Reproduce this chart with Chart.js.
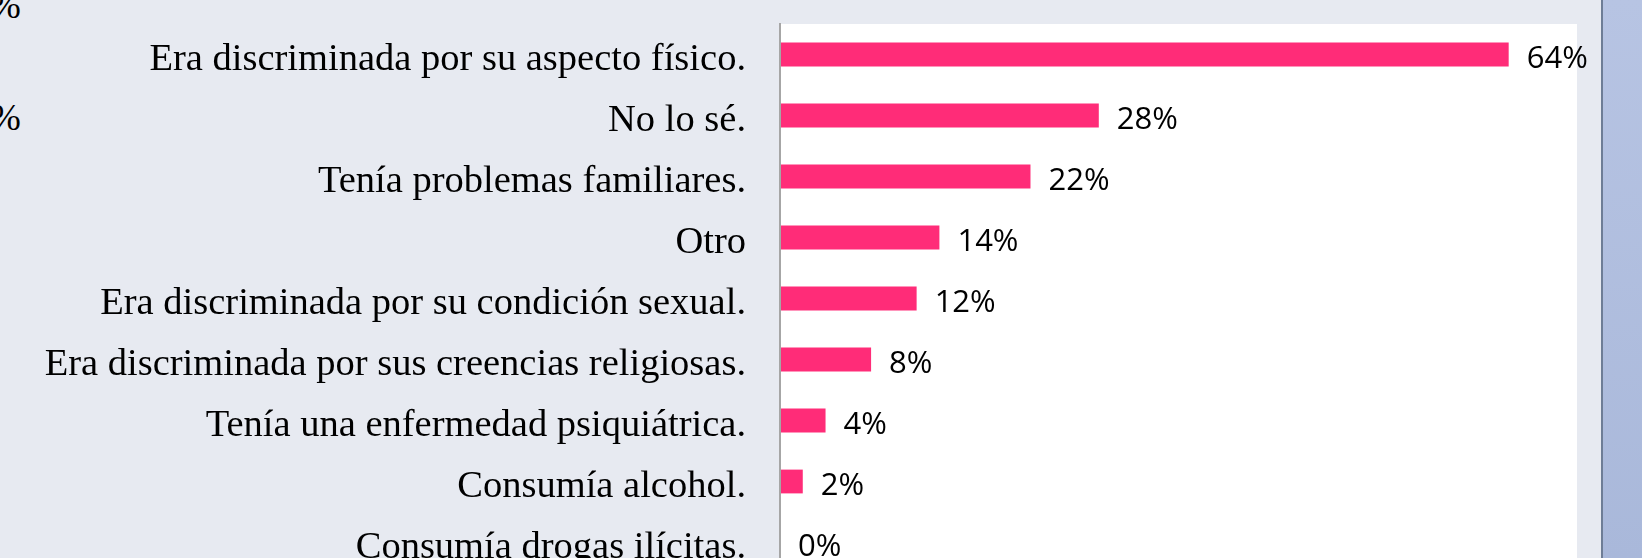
<!DOCTYPE html>
<html lang="es">
<head>
<meta charset="utf-8">
<title>Motivos</title>
<script src="https://cdn.jsdelivr.net/npm/chart.js@4/dist/chart.umd.min.js"></script>
<style>
    html, body {
        margin: 0;
        padding: 0;
        width: 1642px;
        height: 558px;
        overflow: hidden;
        background: #e7eaf1;
    }
    #wrap {
        position: absolute;
        left: 0;
        top: 0;
        width: 1601px;
        height: 580px;
    }
    .cut-label {
        position: absolute;
        font-family: 'Liberation Serif', serif;
        font-size: 37px;
        color: #000;
        line-height: 1;
    }
    #side {
        position: absolute;
        left: 1601px;
        top: 0;
        width: 41px;
        height: 558px;
        border-left: 2px solid #6e7d96;
        box-sizing: border-box;
        background: linear-gradient(#b7c4e3, #a9b8da);
    }
</style>
</head>
<body>
<div class="cut-label" style="left:-10px; top:-13px;">%</div>
<div class="cut-label" style="left:-10px; top:99px;">%</div>
<div id="wrap"><canvas id="reasonChart" width="1601" height="580"></canvas></div>
<div id="side"></div>

<script>
// Data (percent)
const categories = [
    'Era discriminada por su aspecto físico.',
    'No lo sé.',
    'Tenía problemas familiares.',
    'Otro',
    'Era discriminada por su condición sexual.',
    'Era discriminada por sus creencias religiosas.',
    'Tenía una enfermedad psiquiátrica.',
    'Consumía alcohol.',
    'Consumía drogas ilícitas.'
];
const values = [64, 28, 22, 14, 12, 8, 4, 2, 0];
const axisMax = 70;

/**
 * White plot background behind the bars
 */
const plotBackground = {
    id: 'plotBackground',
    beforeDraw(chart) {
        const a = chart.chartArea;
        const ctx = chart.ctx;
        ctx.save();
        ctx.fillStyle = '#ffffff';
        ctx.fillRect(a.left, a.top, a.right - a.left, a.bottom - a.top);
        ctx.restore();
    }
};

/**
 * Value labels to the right of each bar
 */
const valueLabels = {
    id: 'valueLabels',
    afterDatasetsDraw(chart) {
        const ctx = chart.ctx;
        const meta = chart.getDatasetMeta(0);
        ctx.save();
        ctx.font = "31px 'Open Sans', sans-serif";
        ctx.fillStyle = '#000000';
        ctx.textAlign = 'left';
        ctx.textBaseline = 'middle';
        meta.data.forEach((bar, i) => {
            ctx.fillText(values[i] + '%', bar.x + 18, bar.y + 5);
        });
        ctx.restore();
    }
};

document.addEventListener('DOMContentLoaded', function() {
    const ctx = document.getElementById('reasonChart').getContext('2d');

    new Chart(ctx, {
        type: 'bar',
        data: {
            labels: categories,
            datasets: [{
                data: values,
                backgroundColor: '#ff2c78',
                borderWidth: 0,
                categoryPercentage: 1,
                barPercentage: 0.39
            }]
        },
        options: {
            indexAxis: 'y',
            responsive: false,
            animation: false,
            layout: {
                padding: { top: 24, right: 24, bottom: 7, left: 0 }
            },
            plugins: {
                legend: { display: false },
                tooltip: { enabled: false }
            },
            scales: {
                x: {
                    display: false,
                    min: 0,
                    max: axisMax
                },
                y: {
                    afterFit(scale) {
                        // fixed label column, no extra room for tall labels
                        scale.width = 780;
                        scale.paddingTop = 0;
                        scale.paddingBottom = 0;
                    },
                    grid: {
                        display: false,
                        drawTicks: false
                    },
                    border: {
                        display: true,
                        color: '#a6a6a6',
                        width: 2,
                        z: 1
                    },
                    ticks: {
                        padding: 34,
                        labelOffset: 5,
                        autoSkip: false,
                        color: '#000000',
                        font: {
                            family: "'Liberation Serif', serif",
                            size: 38.5
                        }
                    }
                }
            }
        },
        plugins: [plotBackground, valueLabels]
    });
});
</script>
</body>
</html>
